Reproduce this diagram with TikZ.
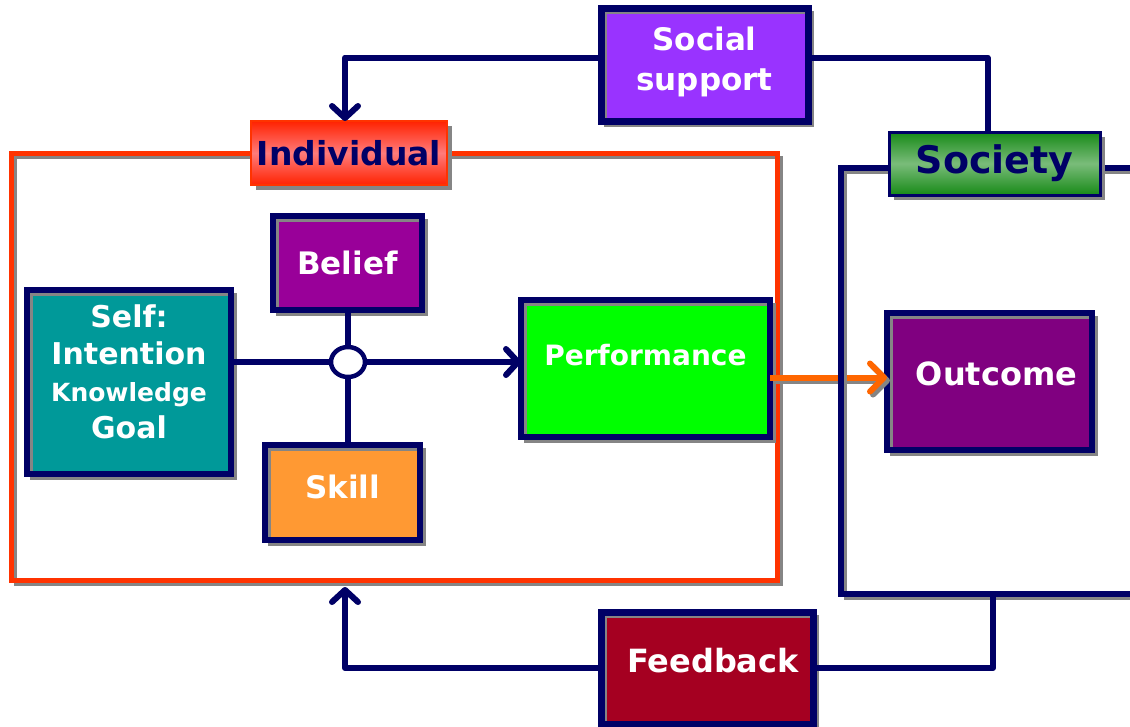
\documentclass[tikz,border=0pt]{standalone}
\usepackage{fontspec}
\setmainfont{DejaVu Sans}
\usetikzlibrary{arrows.meta,shapes.geometric,shadows}
\definecolor{navy}{HTML}{000066}
\definecolor{indred}{HTML}{FF3300}
\definecolor{indtop}{HTML}{FF2200}
\definecolor{indpink}{HTML}{FF7B7B}
\definecolor{socgreen}{HTML}{178A17}
\definecolor{soclight}{HTML}{7ABC7A}
\definecolor{shadegray}{HTML}{858585}
\definecolor{socialfill}{HTML}{9933FF}
\definecolor{belieffill}{HTML}{990099}
\definecolor{selffill}{HTML}{009999}
\definecolor{skillfill}{HTML}{FF9933}
\definecolor{perffill}{HTML}{00FF00}
\definecolor{outfill}{HTML}{800080}
\definecolor{feedfill}{HTML}{A50021}
\definecolor{perfarrow}{HTML}{FF6600}

\begin{document}
\begin{tikzpicture}[x=1pt, y=-1pt,
    box/.style={rectangle, fill=#1, outer sep=0pt, inner sep=0pt, text=white, align=center},
    shadeline/.style={draw=shadegray, line width=3pt},
    link/.style={draw=navy, line width=6pt, line join=round},
    linkarrow/.style={link, -{Straight Barb[length=12pt, width=26pt, round]}},
    label/.style={rectangle, outer sep=0pt, inner sep=0pt, text=navy,
      drop shadow={shadow xshift=5pt, shadow yshift=-5pt, fill=shadegray, opacity=1}}]

    \fill[white] (0,0) rectangle (1130,726);
    \useasboundingbox (0,0) rectangle (1130,726);

    % individual frame
    \coordinate (indNW) at (11,153);
    \coordinate (indSE) at (777,580);
    \draw[shadeline] ([shift={(4pt,-4pt)}]indNW) rectangle ([shift={(4pt,-4pt)}]indSE);
    \draw[draw=indred, line width=5pt] (indNW) rectangle (indSE);

    % boxes
    \node[box=socialfill, minimum width=207pt, minimum height=113pt,
      font=\bfseries\fontsize{31}{40}\selectfont] (social) at (704.5,64.5) {Social\\support\\[-28pt]};
    \node[box=belieffill, minimum width=149pt, minimum height=94pt,
      font=\bfseries\fontsize{31}{38}\selectfont] (belief) at (347.5,263) {Belief};
    \node[box=selffill, minimum width=204pt, minimum height=184pt,
      font=\bfseries\fontsize{30}{37}\selectfont] (self) at (129,382)
      {Self:\\Intention\\{\fontsize{25}{37}\selectfont Knowledge}\\Goal\\[-17pt]};
    \node[box=skillfill, minimum width=155pt, minimum height=95pt,
      font=\bfseries\fontsize{31}{38}\selectfont] (skill) at (342.5,492.5) {Skill\\[-26pt]};
    \node[box=perffill, minimum width=249pt, minimum height=137pt,
      font=\bfseries\fontsize{28}{34}\selectfont] (perf) at (645.5,368.5) {Performance\\[-6pt]};
    \node[box=outfill, minimum width=205pt, minimum height=137pt,
      font=\bfseries\fontsize{32}{38}\selectfont] (outcome) at (989.5,381.5) {\hspace*{14pt}Outcome\\[-23pt]};
    \node[box=feedfill, minimum width=212pt, minimum height=112pt,
      font=\bfseries\fontsize{32}{38}\selectfont] (feedback) at (707,668) {\hspace*{12pt}Feedback\\[-22pt]};

    \foreach \n/\w in {social/7, belief/5.5, self/5.5, skill/5.5, perf/5.5, outcome/5.5, feedback/7} {
      \draw[shadeline] ([shift={(4pt,-4pt)}]\n.north west) rectangle ([shift={(4pt,-4pt)}]\n.south east);
      \draw[draw=navy, line width=\w pt] (\n.north west) rectangle (\n.south east);
    }

    % performance to outcome
    \coordinate (po) at ([yshift=-9pt]perf.east);
    \draw[draw=shadegray, line width=6pt, -{Straight Barb[length=14pt, width=28pt, round]}]
      ([shift={(3pt,-3pt)}]po) -- ([shift={(3pt,-3pt)}]po -| outcome.west);
    \draw[draw=perfarrow, line width=6pt, -{Straight Barb[length=14pt, width=28pt, round]}]
      (po) -- (po -| outcome.west);

    % society frame
    \coordinate (socNW) at (841,168);
    \coordinate (socSE) at (1160,594);
    \draw[shadeline] ([shift={(4pt,-4pt)}]socNW) rectangle ([shift={(4pt,-4pt)}]socSE);
    \draw[draw=navy, line width=5.5pt] (socNW) rectangle (socSE);

    % labels
    \node[label, draw=indred, line width=2.5pt, top color=indtop, bottom color=indtop, middle color=indpink,
      minimum width=196pt, minimum height=64pt,
      font=\bfseries\fontsize{33}{40}\selectfont] (indiv) at (349,153) {Individual};
    \node[label, draw=navy, line width=3pt, top color=socgreen, bottom color=socgreen, middle color=soclight,
      minimum width=211pt, minimum height=63pt,
      font=\bfseries\fontsize{38}{44}\selectfont] (society) at (994.5,163.5) {Society};

    % connectors
    \coordinate (indbot) at (345,587);
    \coordinate (socbot) at (993,596);
    \draw[linkarrow] ([yshift=7pt]social.west) -| ([xshift=-4pt]indiv.north);
    \draw[link] ([yshift=7pt]social.east) -| ([xshift=-7pt]society.north);
    \draw[linkarrow] (feedback.west) -| (indbot);
    \draw[link] (feedback.east) -| (socbot);

    \node[ellipse, draw=navy, line width=4.5pt, fill=white, minimum width=34pt, minimum height=30pt,
      inner sep=0pt, outer sep=0pt] (junc) at (348,362) {};
    \draw[link] (self.east |- junc) -- (junc.west);
    \draw[link] (junc.north) -- (junc.north |- belief.south);
    \draw[link] (junc.south) -- (junc.south |- skill.north);
    \draw[linkarrow] (junc.east) -- (junc -| perf.west);

\end{tikzpicture}
\end{document}
